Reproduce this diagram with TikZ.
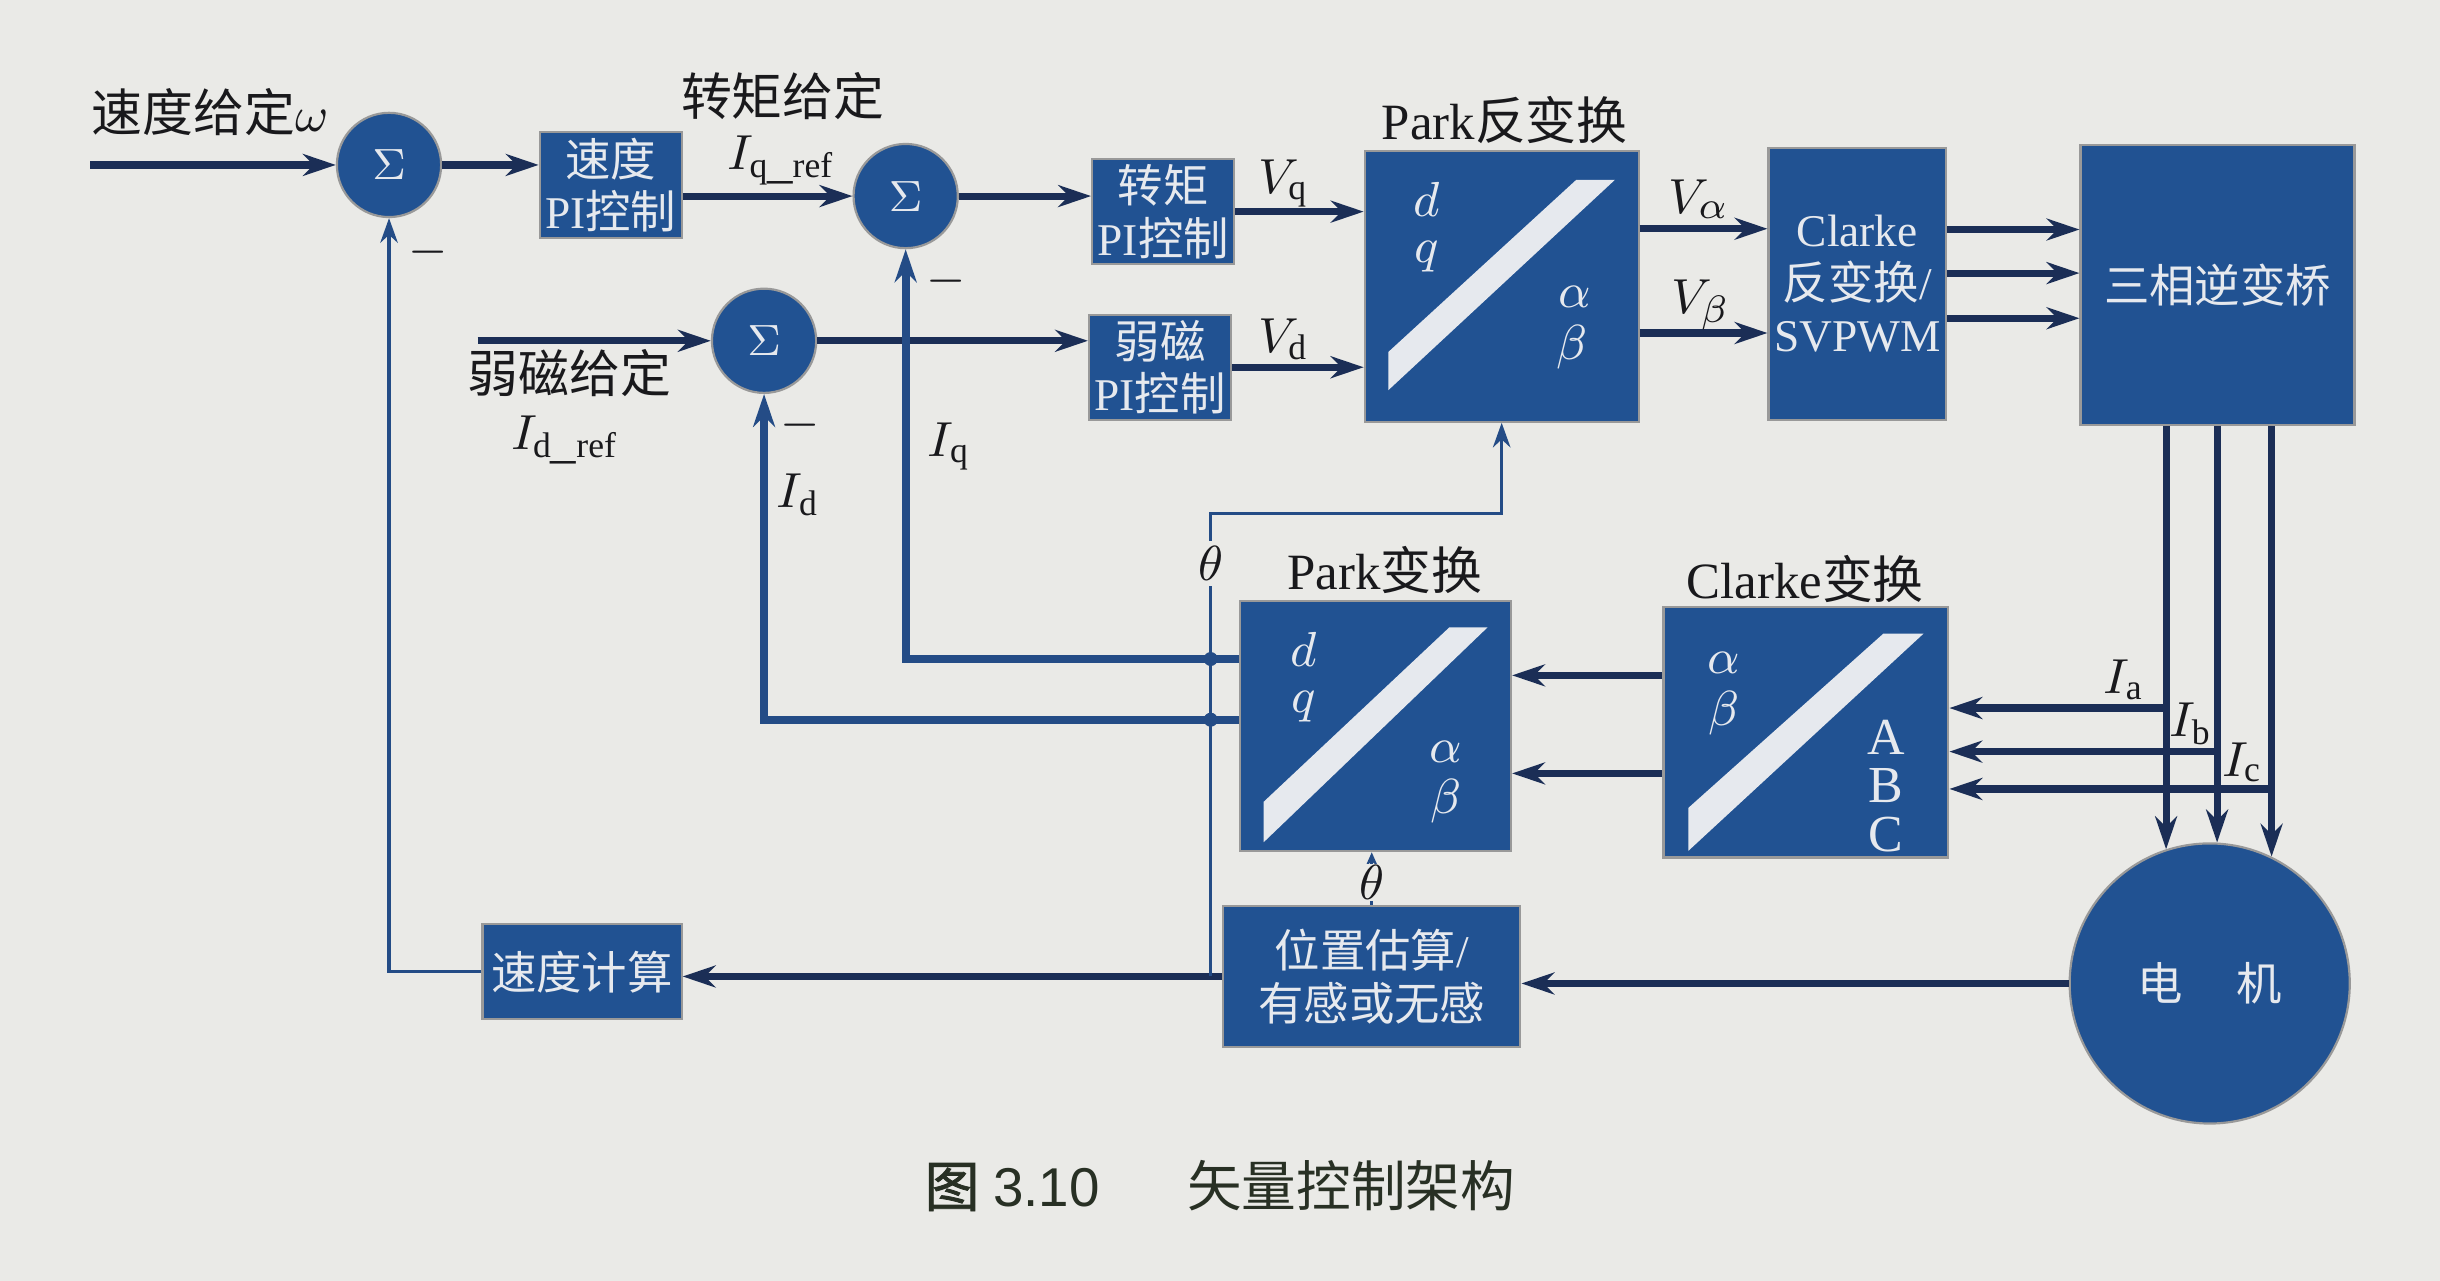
\documentclass[tikz,border=0pt]{standalone}
\usepackage{fontspec}
\setmainfont{Liberation Serif}
\newfontfamily\cjk{Noto Sans CJK SC}
\newfontfamily\cjkbf[FakeBold=1.5]{Noto Sans CJK SC}
\newfontfamily\capsans{Liberation Sans}
\usepackage{tikz}
\usetikzlibrary{arrows.meta}
\usetikzlibrary{calc}

\definecolor{bgpaper}{RGB}{234,234,231}
\definecolor{boxblue}{RGB}{33,82,146}
\definecolor{linenavy}{RGB}{27,46,86}
\definecolor{fbblue}{RGB}{36,76,134}
\definecolor{boxtext}{RGB}{230,233,238}
\definecolor{labelink}{RGB}{25,25,28}
\definecolor{capink}{RGB}{40,48,36}

\newcommand{\boxfont}{\fontsize{8.3}{9.6}\selectfont}
\newcommand{\lblfont}{\fontsize{9.3}{11}\selectfont}
\newcommand{\inboxfont}{\fontsize{9.5}{11}\selectfont}
\newcommand{\capfont}{\fontsize{10}{12}\selectfont}

% 变换框中的白色斜条
\newcommand{\xfbar}[3]{%
  \fill[boxtext] let \p1=(#1.south west), \p2=(#1.north east) in
    ({\x1+0.09*(\x2-\x1)},{\y1+#2*(\y2-\y1)}) --
    ({\x1+0.09*(\x2-\x1)},{\y1+#3*(\y2-\y1)}) --
    ({\x1+0.77*(\x2-\x1)},{\y1+0.89*(\y2-\y1)}) --
    ({\x1+0.91*(\x2-\x1)},{\y1+0.89*(\y2-\y1)}) -- cycle;}

\begin{document}
\begin{tikzpicture}[
    >={Stealth[length=6pt,width=4pt]},
    blk/.style={rectangle, fill=boxblue, draw=black!40, line width=0.4pt,
      text=boxtext, align=center, inner sep=1pt, font=\boxfont},
    sumnode/.style={circle, fill=boxblue, draw=black!40, line width=0.4pt,
      minimum size=0.67cm, inner sep=0pt, text=boxtext, font=\boxfont},
    lbl/.style={text=labelink, font=\lblfont, inner sep=1pt},
    inlbl/.style={text=boxtext, font=\inboxfont, inner sep=0pt},
    arr/.style={->, draw=linenavy, line width=1.3pt},
    fbarr/.style={->, draw=fbblue, line width=1.5pt},
    thinarr/.style={->, draw=fbblue, line width=0.6pt, >={Stealth[length=4.5pt,width=3.2pt]}},
  ]
    % 背景
    \fill[bgpaper] (0,0) rectangle (15.68,-8.23);
    \useasboundingbox (0,0) rectangle (15.68,-8.23);

    % 求和点与控制器
    \node[sumnode] (sum1) at (2.50,-1.06) {$\Sigma$};
    \node[sumnode] (sum2) at (5.82,-1.26) {$\Sigma$};
    \node[sumnode] (sum3) at (4.91,-2.19) {$\Sigma$};
    \node[blk, minimum width=0.89cm, minimum height=0.68cm] (spdpi) at (3.925,-1.19) {{\cjk 速度}\\PI{\cjk 控制}};
    \node[blk, minimum width=0.85cm, minimum height=0.66cm] (tqpi) at (7.475,-1.36) {{\cjk 转矩}\\PI{\cjk 控制}};
    \node[blk, minimum width=0.85cm, minimum height=0.66cm] (flpi) at (7.455,-2.36) {{\cjk 弱磁}\\PI{\cjk 控制}};

    % 变换与功率部分
    \node[blk, minimum width=1.76cm, minimum height=1.74cm] (parkinv) at (9.65,-1.84) {};
    \node[blk, minimum width=1.13cm, minimum height=1.75cm] (clarkeinv) at (11.935,-1.825) {Clarke\\{\cjk 反变换}/\\SVPWM};
    \node[blk, minimum width=1.76cm, minimum height=1.80cm] (inv) at (14.25,-1.83) {\cjk 三相逆变桥};
    \node[blk, circle, minimum size=1.8cm] (motor) at (14.20,-6.32) {\cjk 电\hspace{1.2em}机};
    \node[blk, minimum width=1.83cm, minimum height=1.61cm] (clarke) at (11.605,-4.705) {};
    \node[blk, minimum width=1.74cm, minimum height=1.61cm] (parktr) at (8.84,-4.665) {};
    \node[blk, minimum width=1.91cm, minimum height=0.91cm] (posest) at (8.815,-6.275) {{\cjk 位置估算}/\\{\cjk 有感或无感}};
    \node[blk, minimum width=1.28cm, minimum height=0.61cm] (spdcalc) at (3.74,-6.245) {\cjk 速度计算};

    \xfbar{parkinv}{0.12}{0.26}
    \xfbar{parktr}{0.04}{0.20}
    \xfbar{clarke}{0.03}{0.20}

    % 框内字母
    \node[inlbl] (pid) at (9.17,-1.28) {$d$};
    \node[inlbl] (piq) at (9.17,-1.65) {$q$};
    \node[inlbl] (pia) at (10.12,-1.91) {$\alpha$};
    \node[inlbl] (pib) at (10.10,-2.23) {$\beta$};
    \node[inlbl] (ptd) at (8.38,-4.17) {$d$};
    \node[inlbl] (ptq) at (8.38,-4.54) {$q$};
    \node[inlbl] (pta) at (9.29,-4.83) {$\alpha$};
    \node[inlbl] (ptb) at (9.29,-5.15) {$\beta$};
    \node[inlbl] (cta) at (11.08,-4.26) {$\alpha$};
    \node[inlbl] (ctb) at (11.08,-4.58) {$\beta$};
    \node[inlbl] (ctA) at (12.12,-4.74) {A};
    \node[inlbl] (ctB) at (12.12,-5.05) {B};
    \node[inlbl] (ctC) at (12.12,-5.36) {C};

    % 前向通道
    \coordinate (win) at (0.58,-1.06);
    \coordinate (fwin) at (3.07,-2.19);
    \draw[arr] (win) -- (sum1.west);
    \draw[arr] (sum1.east) -- (sum1.east -| spdpi.west);
    \draw[arr] (spdpi.east |- sum2.west) -- (sum2.west);
    \draw[arr] (sum2.east) -- (sum2.east -| tqpi.west);
    \draw[arr] (tqpi.east) -- (tqpi.east -| parkinv.west);
    \draw[arr] (fwin) -- (sum3.west);
    \draw[arr] (sum3.east) -- (sum3.east -| flpi.west);
    \draw[arr] (flpi.east) -- (flpi.east -| parkinv.west);
    \draw[arr] ($(parkinv.east)+(0,0.37)$) coordinate (va) -- (va -| clarkeinv.west);
    \draw[arr] ($(parkinv.east)+(0,-0.30)$) coordinate (vb) -- (vb -| clarkeinv.west);
    \foreach \dy in {0.35,0.07,-0.22}
      \draw[arr] ($(clarkeinv.east)+(0,\dy)$) coordinate (pw) -- (pw -| inv.west);
    \foreach \ang in {108,87,64}
      \draw[arr] (motor.\ang |- inv.south) -- (motor.\ang);

    % 电流采样
    \coordinate (ya) at (0,-4.55);
    \coordinate (yb) at (0,-4.83);
    \coordinate (yc) at (0,-5.07);
    \draw[arr] (motor.108 |- ya) -- (ya -| clarke.east);
    \draw[arr] (motor.87 |- yb) -- (yb -| clarke.east);
    \draw[arr] (motor.64 |- yc) -- (yc -| clarke.east);
    \draw[arr] ($(clarke.west)+(0,0.365)$) coordinate (q1) -- (q1 -| parktr.east);
    \draw[arr] ($(clarke.west)+(0,-0.265)$) coordinate (q2) -- (q2 -| parktr.east);

    % 反馈
    \coordinate (iqrow) at ($(parktr.west)+(0,0.43)$);
    \coordinate (idrow) at ($(parktr.west)+(0,0.04)$);
    \draw[fbarr] (iqrow) -| (sum2.south);
    \draw[fbarr] (idrow) -| (sum3.south);
    \draw[arr] (motor.west) -- (motor.west -| posest.east);
    \draw[arr] (posest.west) -- (posest.west -| spdcalc.east);
    \draw[thinarr] (spdcalc.west) -| (sum1.south);

    % 角度 theta
    \coordinate (thc) at (7.78,-3.30);
    \draw[thinarr] (thc |- posest.west) -- (thc) -| (parkinv.south);
    \fill[fbblue] (thc |- iqrow) circle (0.045);
    \fill[fbblue] (thc |- idrow) circle (0.045);
    \node[lbl, fill=bgpaper] (th1) at (7.78,-3.62) {$\theta$};
    \draw[thinarr, >={Stealth[length=2.5pt,width=2.2pt]}] (posest.north) -- (posest.north |- parktr.south);
    \node[lbl, fill=bgpaper, inner sep=0.3pt] (th2) at ($(posest.north)!0.42!(posest.north |- parktr.south)$) {$\theta$};

    % 文字标注
    \node[lbl] (lomega) at (1.35,-0.72) {{\cjk 速度给定}$\omega$};
    \node[lbl] (ltq) at (5.03,-0.62) {\cjk 转矩给定};
    \node[lbl] (liqref) at (5.02,-1.03) {$I_{\mathrm{q\_ref}}$};
    \node[lbl] (lflux) at (3.66,-2.40) {\cjk 弱磁给定};
    \node[lbl] (lidref) at (3.63,-2.83) {$I_{\mathrm{d\_ref}}$};
    \node[lbl] (lvq) at (8.25,-1.18) {$V_{\mathrm{q}}$};
    \node[lbl] (lvd) at (8.25,-2.18) {$V_{\mathrm{d}}$};
    \node[lbl] (lva) at (10.92,-1.28) {$V_{\alpha}$};
    \node[lbl] (lvb) at (10.93,-1.96) {$V_{\beta}$};
    \node[lbl] (liq) at (6.10,-2.87) {$I_{\mathrm{q}}$};
    \node[lbl] (lid) at (5.13,-3.18) {$I_{\mathrm{d}}$};
    \node[lbl] (lia) at (13.65,-4.37) {$I_{\mathrm{a}}$};
    \node[lbl] (lib) at (14.08,-4.65) {$I_{\mathrm{b}}$};
    \node[lbl] (lic) at (14.41,-4.90) {$I_{\mathrm{c}}$};
    \node[lbl] (m1) at (2.75,-1.62) {$-$};
    \node[lbl] (m2) at (6.08,-1.81) {$-$};
    \node[lbl] (m3) at (5.14,-2.73) {$-$};
    \node[lbl] (lparkinv) at (9.67,-0.77) {Park{\cjk 反变换}};
    \node[lbl] (lparktr) at (8.90,-3.66) {Park{\cjk 变换}};
    \node[lbl] (lclarke) at (11.60,-3.72) {Clarke{\cjk 变换}};

    % 图题
    \node[font=\capfont, text=capink] (cap) at (7.84,-7.62)
      {{\cjkbf 图} {\capsans 3.10}\hspace{1.6em}{\cjk 矢量控制架构}};
\end{tikzpicture}
\end{document}
